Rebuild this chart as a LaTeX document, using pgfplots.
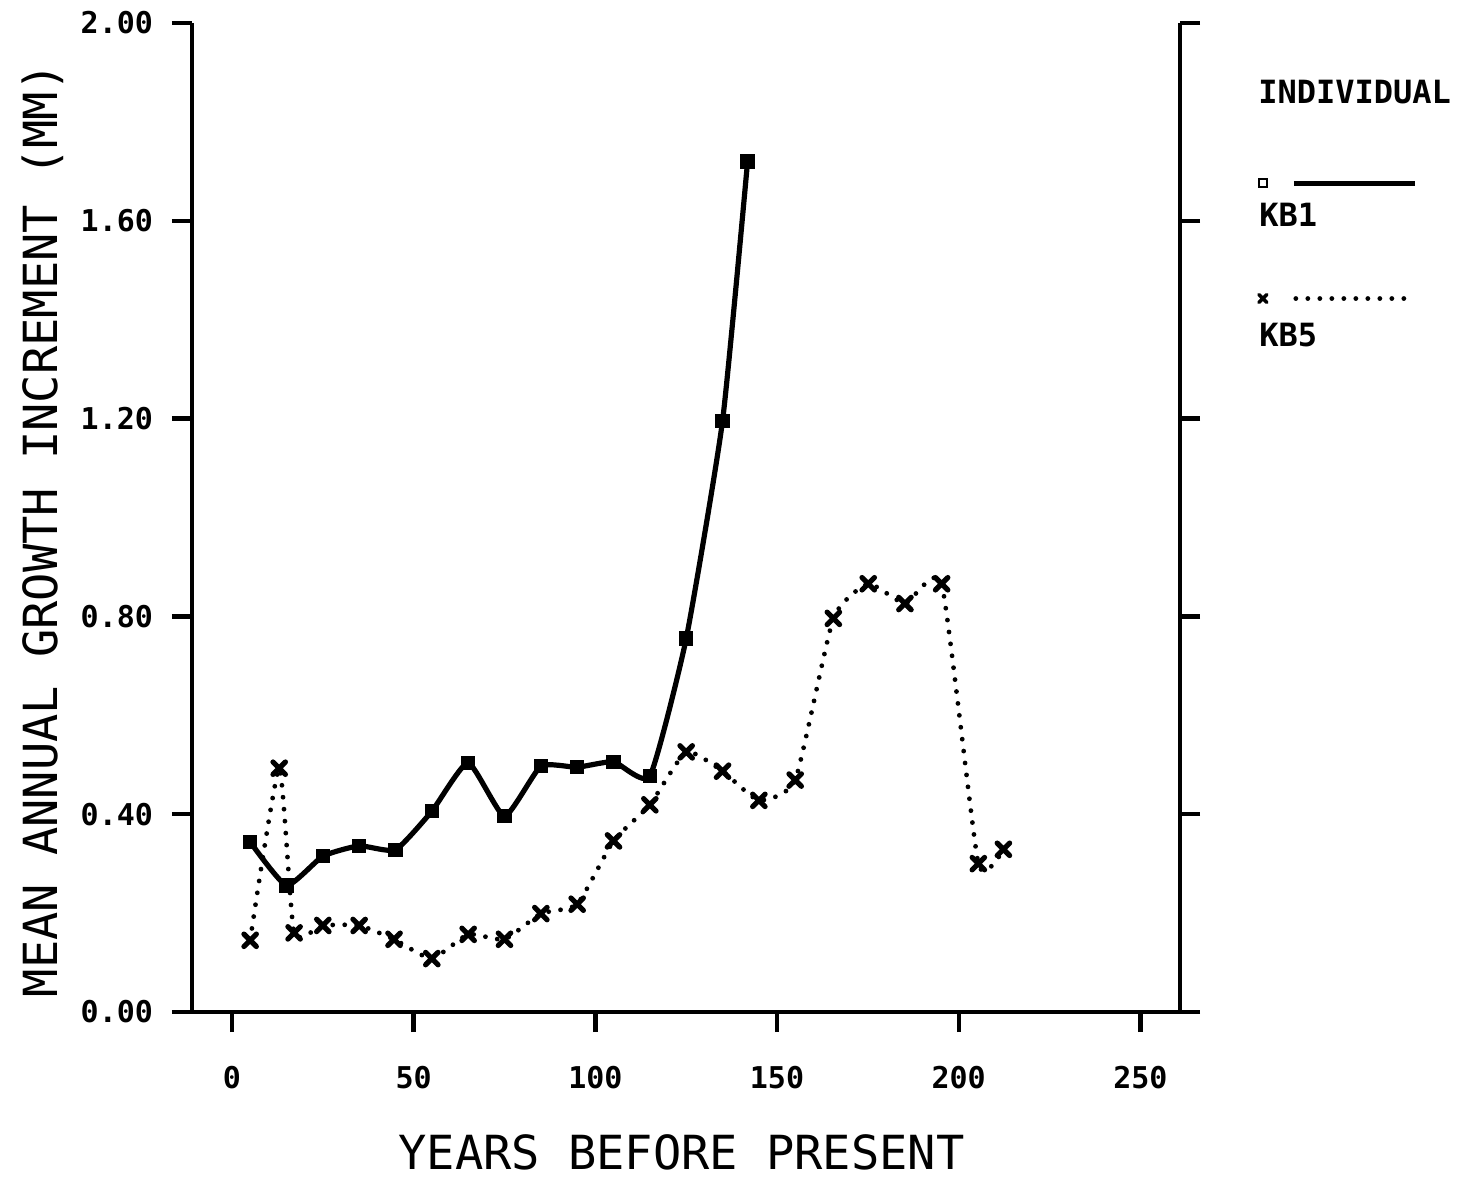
\documentclass[border=0pt]{standalone}
\usepackage{fontspec}
\usepackage{pgfplots}
\pgfplotsset{compat=1.18}
\newfontfamily\plotfont{DejaVu Sans Mono}
\newcommand\tickfont{\plotfont\bfseries\fontsize{15bp}{15bp}\selectfont}
\newcommand\labelfont{\plotfont\fontsize{23.5bp}{23.5bp}\selectfont}
\newcommand\keyfont{\plotfont\bfseries\fontsize{16bp}{16bp}\selectfont}

\begin{document}
\begin{tikzpicture}
\useasboundingbox (-96bp,-84.5bp) rectangle (644bp,506bp);
\begin{axis}[
  at={(0,0)}, anchor=south west,
  scale only axis, width=494bp, height=494.5bp,
  xmin=-11, xmax=260.9, ymin=0, ymax=2,
  clip=false,
  axis x line*=bottom, axis y line*=box,
  axis line style={line width=2.2bp},
  every tick/.style={black, line width=2.2bp},
  tick align=outside, major tick length=10bp,
  xtick={0,50,100,150,200,250},
  xticklabels={0,50,100,150,200,250},
  ytick={0,0.4,0.8,1.2,1.6,2},
  yticklabels={0.00,0.40,0.80,1.20,1.60,2.00},
  yticklabel pos=left,
  ticklabel style={font=\tickfont},
  xticklabel style={yshift=-13.5bp},
  yticklabel style={xshift=-6bp},
  xlabel={YEARS BEFORE PRESENT},
  ylabel={MEAN ANNUAL GROWTH INCREMENT (MM)},
  xlabel style={font=\labelfont, text depth=0pt, at={(axis description cs:0.4954,-0.1415)}, anchor=center},
  ylabel style={font=\labelfont, text depth=0pt, at={(axis description cs:-0.1538,0.487)}, anchor=center},
  legend style={at={(axis description cs:1.0798,0.8421)}, anchor=north west,
    draw=none, fill=none, inner sep=0pt, outer sep=0pt,
    row sep=53.7bp, column sep=0pt,
    nodes={inner sep=0pt, outer sep=0pt}},
]

% KB5: dotted spline with crosses
\addplot[black, smooth, tension=0.3, line width=2.4bp, line cap=round,
  dash pattern=on 0bp off 6bp,
  mark=x, mark size=4.4bp, mark options={solid, line width=2.6bp, line cap=round},
  forget plot] coordinates {
  (5,0.145) (13,0.493) (17.1,0.160) (25,0.175) (35,0.175) (44.6,0.147)
  (55,0.108) (65,0.157) (75,0.147) (85,0.199) (95,0.218) (105,0.346)
  (115,0.419) (125,0.526) (135,0.487) (145,0.428) (155,0.469) (165.5,0.796)
  (175.1,0.866) (185.2,0.826) (195.3,0.866) (205.4,0.300) (212.3,0.329)
};

% KB1: solid spline with filled squares
\addplot[black, smooth, tension=0.3, line width=2.6bp,
  mark=square*, mark size=3.1bp, mark options={solid, line width=1bp},
  forget plot] coordinates {
  (5,0.344) (15,0.256) (25,0.315) (35,0.336) (45,0.328) (55,0.406)
  (65,0.504) (75,0.396) (85,0.497) (95,0.495) (105,0.506) (115,0.477)
  (125,0.755) (135,1.195) (141.9,1.720)
};

% legend keys
\addlegendimage{black, line width=2.5bp,
  legend image code/.code={
    \draw[black, line width=2.5bp] (15.5bp,0bp) -- (76bp,0bp);
    \draw[black, mark=square, mark size=2bp, mark options={solid, line width=1.2bp}]
      plot coordinates {(0bp,0bp)};
  }}
\addlegendentry{\mbox{}}
\addlegendimage{black,
  legend image code/.code={
    \draw[black, line width=2.4bp, line cap=round, dash pattern=on 0bp off 6bp]
      (16.5bp,0bp) -- (76bp,0bp);
    \draw[black, mark=x, mark size=2.8bp, mark options={solid, line width=1.8bp, line cap=round}]
      plot coordinates {(0bp,0bp)};
  }}
\addlegendentry{\mbox{}}

\node[anchor=west, inner sep=0pt, font=\keyfont] at (axis description cs:1.0789,0.9303) {INDIVIDUAL};
\node[anchor=west, inner sep=0pt, font=\keyfont] at (axis description cs:1.0800,0.8060) {KB1};
\node[anchor=west, inner sep=0pt, font=\keyfont] at (axis description cs:1.0800,0.6848) {KB5};
\end{axis}
\end{tikzpicture}
\end{document}
